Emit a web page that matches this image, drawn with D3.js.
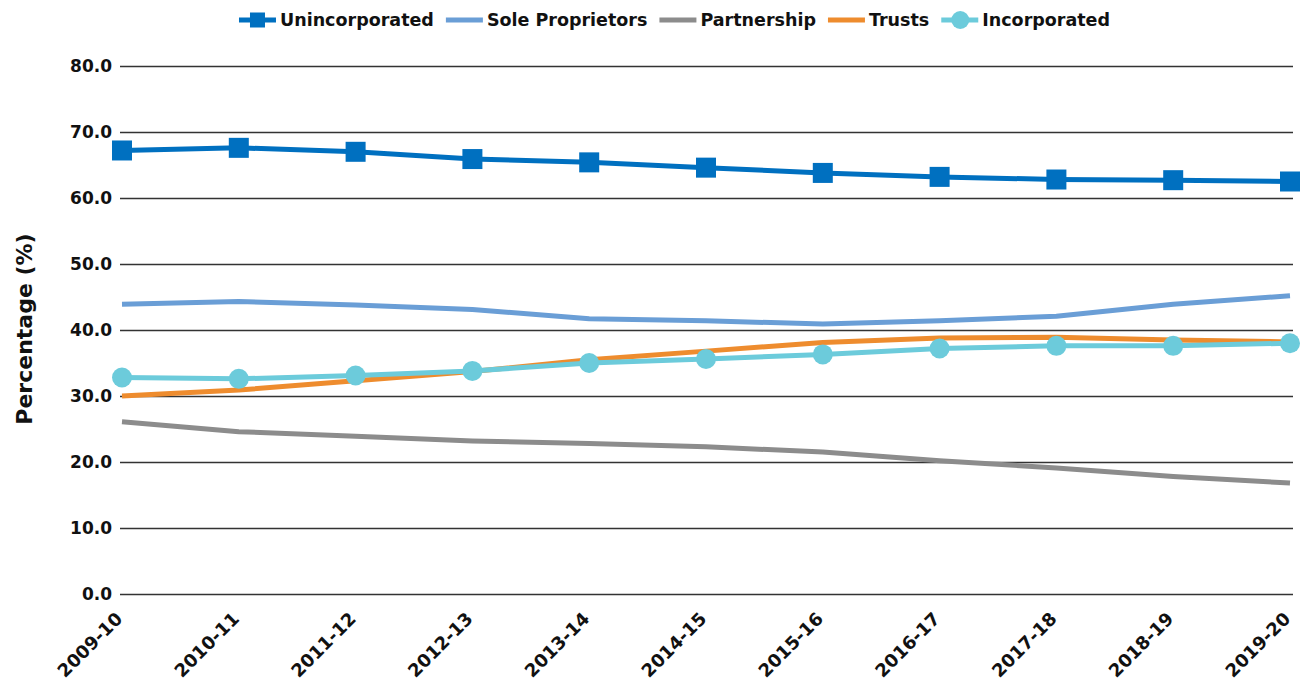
<!DOCTYPE html>
<html>
<head>
<meta charset="utf-8">
<script src="https://cdn.jsdelivr.net/npm/d3@7"></script>
<style>
  body { margin: 0; background: #fff; }
  svg { font-family: "DejaVu Sans", sans-serif; }
</style>
</head>
<body>
<div id="chart"></div>
<script>
// data
const years = ['2009-10', '2010-11', '2011-12', '2012-13', '2013-14', '2014-15', '2015-16', '2016-17', '2017-18', '2018-19', '2019-20'];
const unincorporated = [67.2, 67.6, 67.0, 65.9, 65.4, 64.6, 63.8, 63.2, 62.8, 62.7, 62.5];
const soleProprietors = [43.9, 44.3, 43.8, 43.1, 41.7, 41.4, 40.9, 41.4, 42.1, 43.9, 45.2];
const partnership = [26.1, 24.6, 23.9, 23.2, 22.8, 22.3, 21.5, 20.2, 19.1, 17.8, 16.8];
const trusts = [30.0, 30.9, 32.3, 33.7, 35.5, 36.8, 38.1, 38.8, 38.9, 38.5, 38.2];
const incorporated = [32.8, 32.6, 33.1, 33.8, 35.0, 35.6, 36.3, 37.2, 37.6, 37.6, 38.0];
const yTicks = [0, 10, 20, 30, 40, 50, 60, 70, 80];

const series = [
  { name: 'Unincorporated', values: unincorporated, color: '#0070c0', marker: 'square' },
  { name: 'Sole Proprietors', values: soleProprietors, color: '#6a9ed6', marker: null },
  { name: 'Partnership', values: partnership, color: '#8c8c8c', marker: null },
  { name: 'Trusts', values: trusts, color: '#ee8c2e', marker: null },
  { name: 'Incorporated', values: incorporated, color: '#6ccbdb', marker: 'circle' }
];

const width = 1303, height = 684;
const plotL = 122, plotR = 1290, plotT = 66, plotB = 594, gridR = 1293;
const font = '"DejaVu Sans", sans-serif';

const svg = d3.select('#chart').append('svg')
  .attr('width', width)
  .attr('height', height);

// scales
const x = d3.scalePoint().domain(years).range([plotL, plotR]);
const y = d3.scaleLinear().domain([0, 80]).range([plotB, plotT]);

// grid lines + y labels
const yAxis = svg.append('g')
  .attr('transform', `translate(${plotL - 2},0)`)
  .call(d3.axisLeft(y).tickValues(yTicks).tickSize(-(gridR - plotL + 2)).tickPadding(8).tickFormat(d3.format('.1f')))
  .attr('font-family', font);
yAxis.select('.domain').remove();
yAxis.selectAll('.tick line').attr('stroke', '#333').attr('stroke-width', 1.3);
yAxis.selectAll('.tick text')
  .style('font-size', '17px')
  .style('font-weight', 700)
  .attr('fill', '#111');

// x labels, rotated
const xAxis = svg.append('g')
  .attr('transform', `translate(0,${plotB})`)
  .call(d3.axisBottom(x).tickSize(0).tickPadding(0))
  .attr('font-family', font);
xAxis.select('.domain').remove();
xAxis.selectAll('.tick text')
  .attr('text-anchor', 'end')
  .attr('dy', 0)
  .attr('transform', 'translate(1,26) rotate(-45)')
  .style('font-size', '18px')
  .style('font-weight', 700)
  .attr('fill', '#111');

// y title
svg.append('text')
  .attr('transform', `translate(32,${(plotT + plotB) / 2 - 1}) rotate(-90)`)
  .attr('text-anchor', 'middle')
  .style('font-size', '22px')
  .style('font-weight', 700)
  .attr('fill', '#111')
  .text('Percentage (%)');

// lines
const line = d3.line()
  .x((d, i) => x(years[i]))
  .y(d => y(d));

const plot = svg.append('g');
series.forEach(s => {
  plot.append('path')
    .attr('d', line(s.values))
    .attr('fill', 'none')
    .attr('stroke', s.color)
    .attr('stroke-width', 5)
    .attr('stroke-linejoin', 'round');
});

// markers
series.filter(s => s.marker === 'square').forEach(s => {
  plot.selectAll(null).data(s.values).enter().append('rect')
    .attr('x', (d, i) => x(years[i]) - 10)
    .attr('y', d => y(d) - 10)
    .attr('width', 20)
    .attr('height', 20)
    .attr('fill', s.color);
});
series.filter(s => s.marker === 'circle').forEach(s => {
  plot.selectAll(null).data(s.values).enter().append('circle')
    .attr('cx', (d, i) => x(years[i]))
    .attr('cy', d => y(d))
    .attr('r', 10)
    .attr('fill', s.color);
});

// legend
const legend = svg.append('g');
let lx = 0;
series.forEach(s => {
  const g = legend.append('g').attr('transform', `translate(${lx},0)`);
  g.append('line')
    .attr('x1', 0).attr('x2', 37)
    .attr('stroke', s.color)
    .attr('stroke-width', 5);
  if (s.marker === 'square') {
    g.append('rect').attr('x', 11).attr('y', -7.5).attr('width', 15).attr('height', 15).attr('fill', s.color);
  } else if (s.marker === 'circle') {
    g.append('circle').attr('cx', 19).attr('cy', 0).attr('r', 9).attr('fill', s.color);
  }
  const t = g.append('text')
    .attr('x', 41)
    .attr('dy', '0.36em')
    .style('font-size', '17.5px')
    .style('font-weight', 700)
    .attr('fill', '#111')
    .text(s.name);
  lx += 41 + t.node().getComputedTextLength() + 12;
});
const legendW = lx - 12;
legend.attr('transform', `translate(${(232 + 1117) / 2 - legendW / 2},20)`);
</script>
</body>
</html>
